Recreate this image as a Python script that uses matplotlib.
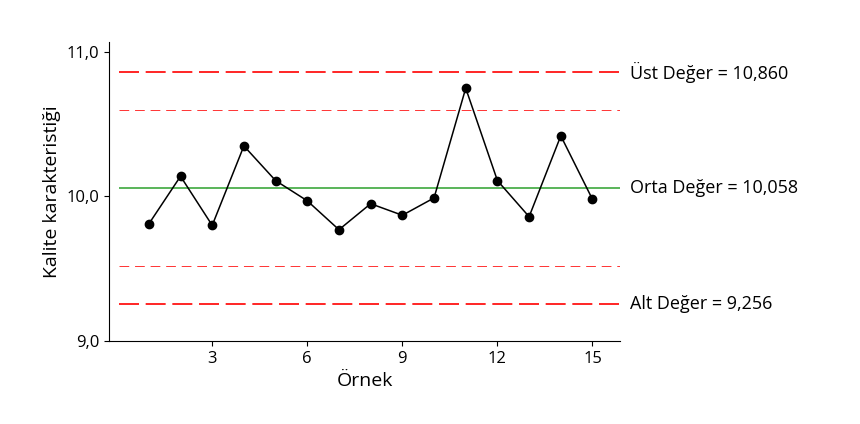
import matplotlib
matplotlib.use("Agg")
import matplotlib.pyplot as plt

plt.rcParams['font.family'] = ['Open Sans', 'DejaVu Sans']

samples = list(range(1, 16))
values = [9.81, 10.14, 9.80, 10.35, 10.11, 9.97, 9.77, 9.95, 9.87, 9.99, 10.75, 10.11, 9.86, 10.42, 9.98]
ucl, center, lcl = 10.860, 10.058, 9.256
upper_warn, lower_warn = 10.60, 9.52
x_ticks = [3, 6, 9, 12, 15]
y_ticks = [9.0, 10.0, 11.0]
y_labels = ['9,0', '10,0', '11,0']

fig = plt.figure(figsize=(8.6, 4.24), dpi=100)
ax = fig.add_axes([0.127, 0.196, 0.594, 0.705])

x0, x1 = 0.05, 15.87
ax.hlines([ucl, lcl], x0, x1, colors='red', linewidth=1.2, linestyles=(0, (12, 4)))
ax.hlines([upper_warn, lower_warn], x0, x1, colors='red', linewidth=0.7, linestyles=(0, (10, 6)), alpha=0.8)
ax.hlines(center, x0, x1, colors='#2ca02c', linewidth=1.1)
ax.plot(samples, values, color='black', linewidth=1.1, marker='o', markersize=6)

ax.set_xlim(-0.25, 15.87)
ax.set_ylim(9.0, 11.07)
ax.set_xticks(x_ticks)
ax.set_yticks(y_ticks)
ax.set_yticklabels(y_labels)
ax.tick_params(labelsize=12)
ax.spines['top'].set_visible(False)
ax.spines['right'].set_visible(False)
ax.set_xlabel('Örnek', fontsize=14)
ax.set_ylabel('Kalite karakteristiği', fontsize=14)

for val, txt in [(ucl, 'Üst Değer = 10,860'), (center, 'Orta Değer = 10,058'), (lcl, 'Alt Değer = 9,256')]:
    ax.annotate(txt, xy=(1.0, val), xycoords=('axes fraction', 'data'), xytext=(7, 0),
                textcoords='offset points', va='center', ha='left', fontsize=13,
                annotation_clip=False)

fig.savefig('out.png', dpi=100)
